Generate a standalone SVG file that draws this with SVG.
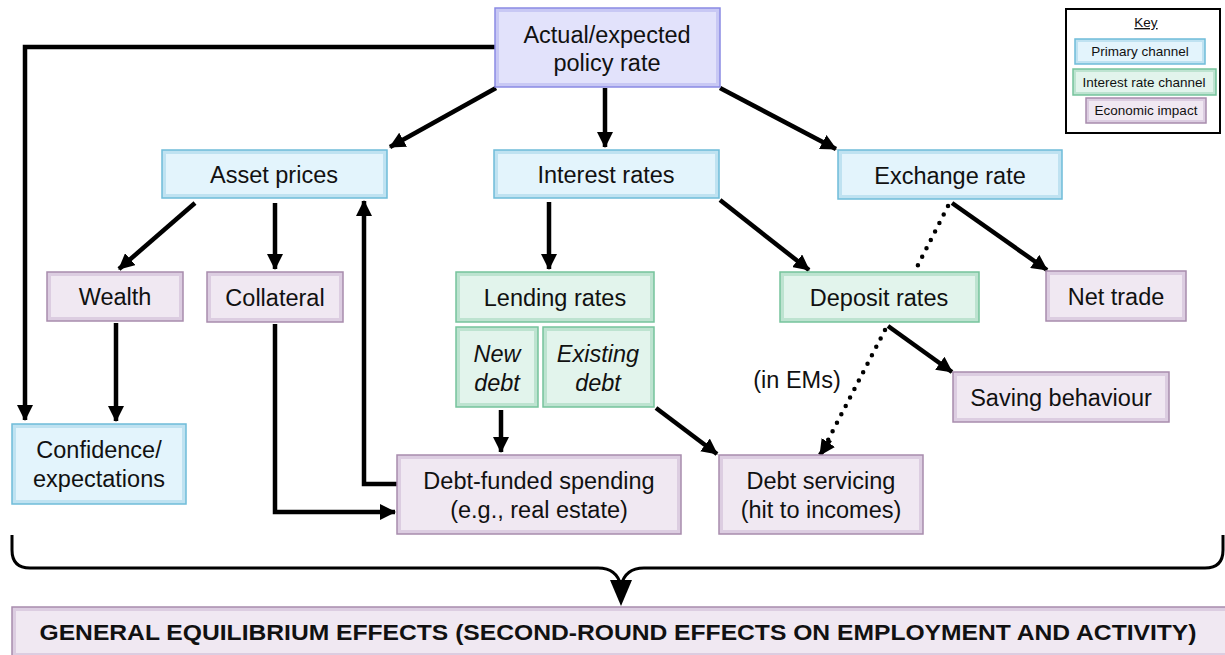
<svg xmlns="http://www.w3.org/2000/svg" width="1225" height="655" viewBox="0 0 1225 655">
<style>
text{font-family:"Liberation Sans",Arial,sans-serif;fill:#111;text-anchor:middle}
.t{font-size:23.5px}
.i{font-style:italic}
.k{font-size:13.5px}
.ge{font-size:22px;font-weight:bold}
.bo{stroke-width:1.5}
.blue .bo{fill:#bfe2f1;stroke:#6fbcd9}
.blue .bi{fill:#e3f4fc}
.green .bo{fill:#bde3d0;stroke:#76c39c}
.green .bi{fill:#e2f4ec}
.purple .bo{fill:#dccde1;stroke:#a88cad}
.purple .bi{fill:#f0e8f2}
.lav .bo{fill:#c8c8f4;stroke:#8a8ae4}
.lav .bi{fill:#e2e2fb}
.c{fill:none;stroke:#000;stroke-width:4.5}
.d{fill:none;stroke:#000;stroke-width:4.5;stroke-dasharray:0 9.5;stroke-linecap:round}
</style>
<defs>
<marker id="a" markerUnits="userSpaceOnUse" markerWidth="16" markerHeight="16" refX="15" refY="8" orient="auto" viewBox="0 0 16 16">
<path d="M0,0 L16,8 L0,16 z" fill="#000"/>
</marker>
</defs>

<g id="connectors">
<polyline class="c" points="497,47 25,47 25,420" marker-end="url(#a)"/>
<line class="c" x1="496" y1="88" x2="390" y2="147" marker-end="url(#a)"/>
<line class="c" x1="605" y1="88" x2="605" y2="147" marker-end="url(#a)"/>
<line class="c" x1="720" y1="88" x2="836" y2="149" marker-end="url(#a)"/>
<line class="c" x1="195" y1="203" x2="119" y2="269" marker-end="url(#a)"/>
<line class="c" x1="275" y1="203" x2="275" y2="269" marker-end="url(#a)"/>
<polyline class="c" points="397,484 364,484 364,201" marker-end="url(#a)"/>
<polyline class="c" points="275,324 275,512 395,512" marker-end="url(#a)"/>
<line class="c" x1="116" y1="323" x2="116" y2="421" marker-end="url(#a)"/>
<line class="c" x1="549" y1="202" x2="549" y2="269" marker-end="url(#a)"/>
<line class="c" x1="720" y1="200" x2="809" y2="270" marker-end="url(#a)"/>
<line class="c" x1="952" y1="203" x2="1047" y2="270" marker-end="url(#a)"/>
<line class="d" x1="948" y1="206" x2="916" y2="269"/>
<line class="c" x1="888" y1="326" x2="952" y2="372" marker-end="url(#a)"/>
<line class="d" x1="885" y1="330" x2="826" y2="444"/>
<line class="c" x1="830" y1="440" x2="820" y2="455" stroke-width="0.1" marker-end="url(#a)"/>
<line class="c" x1="501" y1="410" x2="501" y2="452" marker-end="url(#a)"/>
<line class="c" x1="656" y1="408" x2="717" y2="454" marker-end="url(#a)"/>
<path d="M12,535 L12,550 Q12,568 30,568 L598,568 Q617,568 621,586 M1223,535 L1223,550 Q1223,568 1205,568 L644,568 Q625,568 621,586" fill="none" stroke="#000" stroke-width="3"/>
<polygon points="610,580 632,580 621,606" fill="#000"/>
</g>

<g id="policy" class="lav"><rect class="bo" x="495" y="8" width="225" height="79"/><rect class="bi" x="499" y="12" width="217" height="71"/><text class="t" x="607" y="43">Actual/expected</text><text class="t" x="607" y="71">policy rate</text></g>
<g id="asset" class="blue"><rect class="bo" x="162" y="150" width="225" height="48"/><rect class="bi" x="166" y="154" width="217" height="40"/><text class="t" x="274" y="183">Asset prices</text></g>
<g id="interest" class="blue"><rect class="bo" x="494" y="150" width="225" height="48"/><rect class="bi" x="498" y="154" width="217" height="40"/><text class="t" x="606" y="183">Interest rates</text></g>
<g id="exchange" class="blue"><rect class="bo" x="838" y="150" width="224" height="49"/><rect class="bi" x="842" y="154" width="216" height="41"/><text class="t" x="950" y="184">Exchange rate</text></g>
<g id="wealth" class="purple"><rect class="bo" x="47" y="272" width="136" height="49"/><rect class="bi" x="51" y="276" width="128" height="41"/><text class="t" x="115" y="305">Wealth</text></g>
<g id="collateral" class="purple"><rect class="bo" x="207" y="272" width="136" height="50"/><rect class="bi" x="211" y="276" width="128" height="42"/><text class="t" x="275" y="306">Collateral</text></g>
<g id="lending" class="green"><rect class="bo" x="456" y="272" width="198" height="50"/><rect class="bi" x="460" y="276" width="190" height="42"/><text class="t" x="555" y="306">Lending rates</text></g>
<g id="newdebt" class="green"><rect class="bo" x="456" y="327" width="82" height="80"/><rect class="bi" x="460" y="331" width="74" height="72"/><text class="t i" x="497" y="362">New</text><text class="t i" x="497" y="391">debt</text></g>
<g id="existingdebt" class="green"><rect class="bo" x="543" y="327" width="111" height="80"/><rect class="bi" x="547" y="331" width="103" height="72"/><text class="t i" x="598" y="362">Existing</text><text class="t i" x="598" y="391">debt</text></g>
<g id="deposit" class="green"><rect class="bo" x="780" y="272" width="199" height="50"/><rect class="bi" x="784" y="276" width="191" height="42"/><text class="t" x="879" y="306">Deposit rates</text></g>
<g id="nettrade" class="purple"><rect class="bo" x="1046" y="271" width="140" height="50"/><rect class="bi" x="1050" y="275" width="132" height="42"/><text class="t" x="1116" y="305">Net trade</text></g>
<g id="saving" class="purple"><rect class="bo" x="953" y="372" width="216" height="50"/><rect class="bi" x="957" y="376" width="208" height="42"/><text class="t" x="1061" y="406">Saving behaviour</text></g>
<g id="confidence" class="blue"><rect class="bo" x="12" y="424" width="174" height="80"/><rect class="bi" x="16" y="428" width="166" height="72"/><text class="t" x="99" y="458">Confidence/</text><text class="t" x="99" y="487">expectations</text></g>
<g id="debtfunded" class="purple"><rect class="bo" x="397" y="455" width="284" height="79"/><rect class="bi" x="401" y="459" width="276" height="71"/><text class="t" x="539" y="489">Debt-funded spending</text><text class="t" x="539" y="518">(e.g., real estate)</text></g>
<g id="debtservicing" class="purple"><rect class="bo" x="719" y="455" width="204" height="79"/><rect class="bi" x="723" y="459" width="196" height="71"/><text class="t" x="821" y="489">Debt servicing</text><text class="t" x="821" y="518">(hit to incomes)</text></g>
<g id="inems"><text class="t" x="797" y="388">(in EMs)</text></g>
<g id="ge" class="purple"><rect class="bo" x="12" y="607" width="1220" height="50"/><rect class="bi" x="16" y="611" width="1212" height="42"/><text class="ge" x="618" y="640" textLength="1157" lengthAdjust="spacingAndGlyphs">GENERAL EQUILIBRIUM EFFECTS (SECOND-ROUND EFFECTS ON EMPLOYMENT AND ACTIVITY)</text></g>

<g id="key">
<rect x="1066" y="9" width="154" height="124" fill="#fff" stroke="#000" stroke-width="2"/>
<text class="k" x="1146" y="27" text-decoration="underline">Key</text>
<g class="blue"><rect class="bo" x="1075" y="39" width="130" height="25"/><rect class="bi" x="1078" y="42" width="124" height="19"/><text class="k" x="1140" y="56">Primary channel</text></g>
<g class="green"><rect class="bo" x="1073" y="69" width="143" height="26"/><rect class="bi" x="1076" y="72" width="137" height="20"/><text class="k" x="1144" y="87">Interest rate channel</text></g>
<g class="purple"><rect class="bo" x="1086" y="98" width="120" height="25"/><rect class="bi" x="1089" y="101" width="114" height="19"/><text class="k" x="1146" y="115">Economic impact</text></g>
</g>
</svg>
